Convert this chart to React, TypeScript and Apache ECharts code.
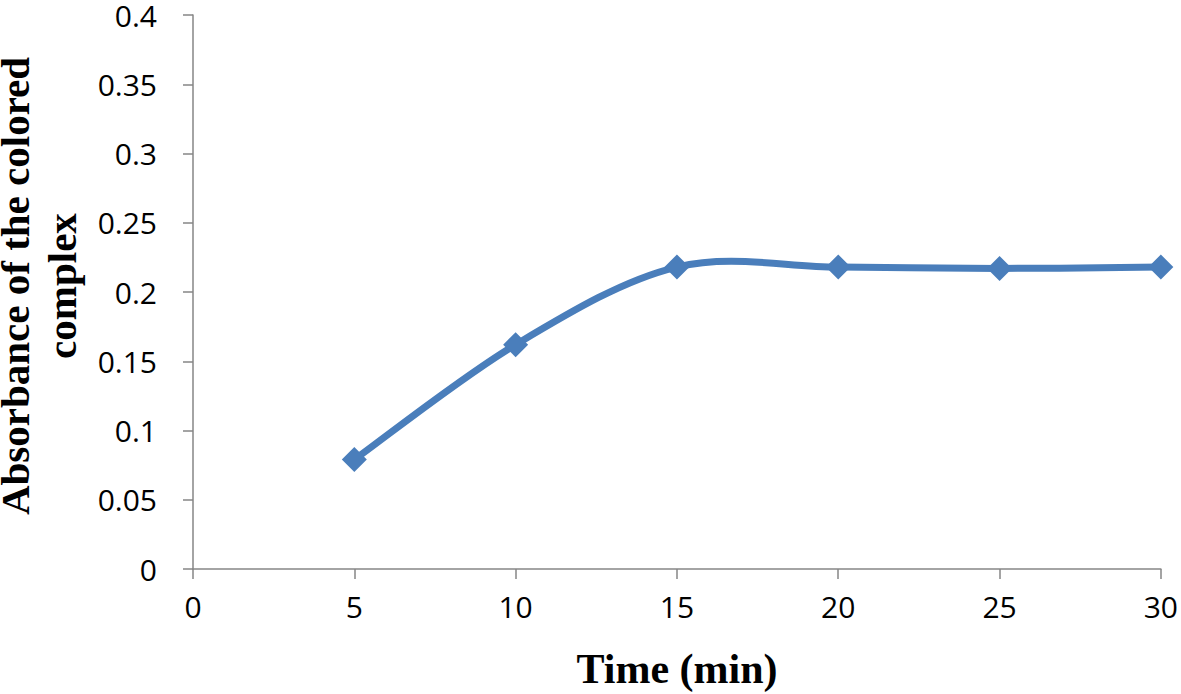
import React, { useEffect, useRef } from "react";
import * as echarts from "echarts";

const timeMin = [5, 10, 15, 20, 25, 30];
const absorbance = [0.079, 0.162, 0.218, 0.218, 0.217, 0.218];
const xTitle = "Time (min)";
const yTitle = "Absorbance of the colored\ncomplex";

export default function App() {
  const ref = useRef<HTMLDivElement>(null);
  useEffect(() => {
    document.body.style.margin = "0";
    const chart = echarts.init(ref.current!, null, { renderer: "svg" });
    const axisColor = "#868686";
    const lineColor = "#4a7ebb";
    const points = timeMin.map((t, i) => [t, absorbance[i]]);
    chart.setOption({
      animation: false,
      backgroundColor: "#ffffff",
      grid: { left: 193, right: 18, top: 13, bottom: 125, containLabel: false },
      xAxis: {
        type: "value",
        min: 0,
        max: 30,
        interval: 5,
        axisLine: { show: true, onZero: false, lineStyle: { color: axisColor, width: 1.5 } },
        axisTick: { show: true, length: 10, lineStyle: { color: axisColor, width: 1.5 } },
        splitLine: { show: false },
        axisLabel: { color: "#000", fontFamily: "Open Sans", fontSize: 30, margin: 22 },
      },
      yAxis: {
        type: "value",
        min: 0,
        max: 0.4,
        interval: 0.05,
        axisLine: { show: true, lineStyle: { color: axisColor, width: 1.5 } },
        axisTick: { show: true, length: 10, lineStyle: { color: axisColor, width: 1.5 } },
        splitLine: { show: false },
        axisLabel: { color: "#000", fontFamily: "Open Sans", fontSize: 30, margin: 36 },
      },
      series: [
        {
          type: "custom",
          data: points,
          clip: false,
          z: 2,
          renderItem: (params: any, api: any) => {
            if (params.dataIndex !== 0) return null;
            const px = points.map((p) => api.coord(p));
            const n = px.length;
            let d = `M${px[0][0]},${px[0][1]}`;
            for (let i = 0; i < n - 1; i++) {
              const p0 = px[Math.max(i - 1, 0)];
              const p1 = px[i];
              const p2 = px[i + 1];
              const p3 = px[Math.min(i + 2, n - 1)];
              const c1x = p1[0] + (p2[0] - p0[0]) / 6;
              const c1y = p1[1] + (p2[1] - p0[1]) / 6;
              const c2x = p2[0] - (p3[0] - p1[0]) / 6;
              const c2y = p2[1] - (p3[1] - p1[1]) / 6;
              d += ` C${c1x},${c1y} ${c2x},${c2y} ${p2[0]},${p2[1]}`;
            }
            return {
              type: "path",
              shape: { pathData: d },
              style: { stroke: lineColor, lineWidth: 7, fill: "none", lineJoin: "round", lineCap: "round" },
            };
          },
        },
        {
          type: "scatter",
          data: points,
          symbol: "diamond",
          symbolSize: 25,
          z: 3,
          itemStyle: { color: lineColor, opacity: 1 },
        },
      ],
      graphic: [
        {
          type: "text",
          x: 677,
          y: 669,
          style: {
            text: xTitle,
            fontFamily: "Liberation Serif",
            fontWeight: "bold",
            fontSize: 42,
            fill: "#000",
            align: "center",
            verticalAlign: "middle",
          },
        },
        {
          type: "text",
          x: 38,
          y: 286,
          rotation: Math.PI / 2,
          style: {
            text: yTitle,
            fontFamily: "Liberation Serif",
            fontWeight: "bold",
            fontSize: 41,
            lineHeight: 47,
            fill: "#000",
            align: "center",
            verticalAlign: "middle",
          },
        },
      ],
    });
    return () => chart.dispose();
  }, []);
  return <div ref={ref} style={{ width: 1181, height: 694 }} />;
}
